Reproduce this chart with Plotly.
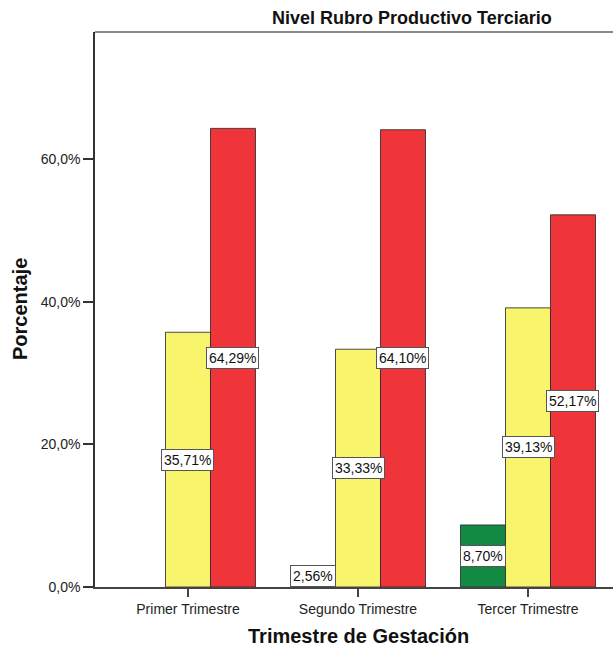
import plotly.graph_objects as go

# Trimestres de gestación y porcentaje por nivel del rubro productivo terciario
trimestres = ["Primer Trimestre", "Segundo Trimestre", "Tercer Trimestre"]
nivel_bajo = [0.0, 2.56, 8.70]
nivel_medio = [35.71, 33.33, 39.13]
nivel_alto = [64.29, 64.10, 52.17]

series = [
    ("Bajo", nivel_bajo, "#138A43"),
    ("Medio", nivel_medio, "#F8F56D"),
    ("Alto", nivel_alto, "#EF343A"),
]

ytick_vals = [0, 20, 40, 60]
ytick_text = ["0,0%", "20,0%", "40,0%", "60,0%"]

FONT = "Liberation Sans, Arial, sans-serif"
BARGAP = 0.206
x_pos = list(range(len(trimestres)))

W, H = 613, 646
ML, MR, MT, MB = 95, 0, 32, 59
pw = W - ML - MR
ph = H - MT - MB

fig = go.Figure()
for name, vals, color in series:
    fig.add_trace(go.Bar(
        x=x_pos, y=vals, name=name,
        marker=dict(
            color=color,
            line=dict(color="rgba(45,45,45,0.85)",
                      width=[1 if v > 0 else 0 for v in vals]),
        ),
        hoverinfo="skip",
    ))

# Value labels in white boxes, centred in each bar
n = len(series)
bar_w = (1 - BARGAP) / n
annotations = []
for k, (name, vals, color) in enumerate(series):
    off = (k - (n - 1) / 2) * bar_w
    for i, v in enumerate(vals):
        if v <= 0:
            continue
        annotations.append(dict(
            x=x_pos[i] + off, y=max(v / 2, 1.6), xref="x", yref="y",
            text=f"{v:.2f}%".replace(".", ","), showarrow=False,
            font=dict(family=FONT, size=14, color="#111"),
            bgcolor="white", bordercolor="#555", borderwidth=1, borderpad=2,
        ))

# Chart title
annotations.append(dict(
    x=(412 - ML) / pw, y=(H - MB - 18) / ph, xref="paper", yref="paper",
    xanchor="center", yanchor="middle",
    text="<b>Nivel Rubro Productivo Terciario</b>", showarrow=False,
    font=dict(family=FONT, size=18, color="#111"),
))
# X axis title
annotations.append(dict(
    x=1, y=(H - MB - 636) / ph, xref="x", yref="paper",
    xanchor="center", yanchor="middle",
    text="<b>Trimestre de Gestación</b>", showarrow=False,
    font=dict(family=FONT, size=20, color="#111"),
))
# Y axis title
annotations.append(dict(
    x=(20 - ML) / pw, y=(H - MB - 309) / ph, xref="paper", yref="paper",
    xanchor="center", yanchor="middle", textangle=-90,
    text="<b>Porcentaje</b>", showarrow=False,
    font=dict(family=FONT, size=20, color="#111"),
))

fig.update_layout(
    width=W, height=H,
    margin=dict(l=ML, r=MR, t=MT, b=MB),
    paper_bgcolor="white", plot_bgcolor="white",
    barmode="group", bargap=BARGAP, bargroupgap=0,
    showlegend=False,
    font=dict(family=FONT, color="#222"),
    annotations=annotations,
    shapes=[dict(type="line", xref="paper", yref="paper", x0=0, x1=1, y0=1, y1=1,
                 line=dict(color="#8A8A8A", width=2))],
    xaxis=dict(
        range=[-0.547, 2.5], tickvals=x_pos, ticktext=trimestres,
        showline=True, linecolor="#444", linewidth=1.5,
        ticks="outside", ticklen=8, tickcolor="#444", tickwidth=1.5,
        tickfont=dict(family=FONT, size=14, color="#222"),
        showgrid=False, zeroline=False, fixedrange=True,
    ),
    yaxis=dict(
        range=[0, 77.8], tickvals=ytick_vals, ticktext=ytick_text,
        showline=True, linecolor="#333", linewidth=1.5,
        ticks="outside", ticklen=10, tickcolor="#333", tickwidth=1.5,
        tickfont=dict(family=FONT, size=14, color="#222"),
        showgrid=False, zeroline=False, fixedrange=True,
    ),
)

fig.write_html("out.html")
